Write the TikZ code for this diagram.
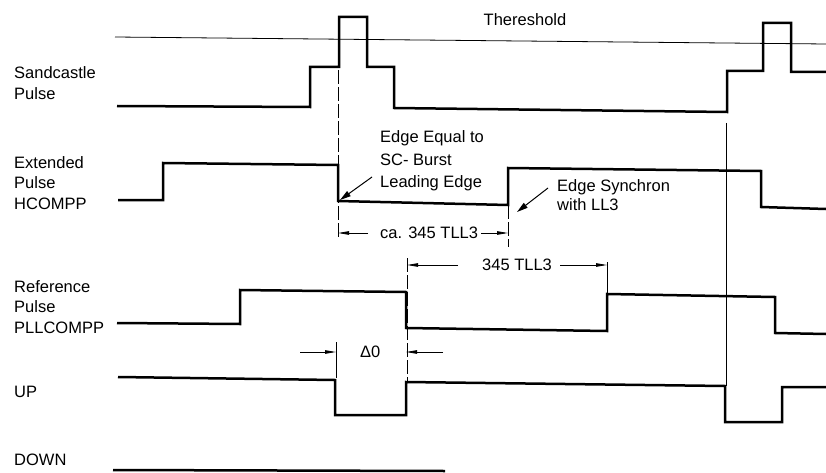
\documentclass[tikz,border=0pt]{standalone}
\usepackage{fontspec}
\setmainfont{Liberation Sans}
\usetikzlibrary{arrows.meta}
\begin{document}
\begin{tikzpicture}[x=1pt,y=-1pt,
  sig/.style={line width=2.5pt, line join=miter},
  hair/.style={line width=0.8pt},
  guide/.style={line width=0.8pt, dash pattern=on 14pt off 3pt},
  lbl/.style={font=\fontsize{16.5}{20.5}\selectfont, inner sep=0pt, align=left, anchor=west},
  dimarrow/.style={line width=0.8pt, -{Triangle[length=11pt,width=3.5pt]}},
  notearrow/.style={line width=1pt, -{Triangle[length=11pt,width=6pt]}},
]
\useasboundingbox (0,0) rectangle (826,473);
% signal labels
\node[lbl] (sand) at (14,83) {Sandcastle\\Pulse};
\node[lbl] (ext) at (14,183) {Extended\\Pulse\\HCOMPP};
\node[lbl] (ref) at (14,307) {Reference\\Pulse\\PLLCOMPP};
\node[lbl] (up) at (14,392) {UP};
\node[lbl] (down) at (14,460) {DOWN};
\node[lbl, anchor=center] (thr) at (525,20) {Thereshold};
% annotations
\node[lbl, font=\fontsize{16.5}{22.5}\selectfont] (eq) at (380,161) {Edge Equal to\\SC- Burst\\Leading Edge};
\node[lbl, font=\fontsize{16.5}{18.5}\selectfont] (syn) at (557,195) {Edge Synchron\\with LL3};
\node[lbl] (ca) at (380,233) {ca. 345 TLL3};
\node[lbl] (tll) at (482,265) {345 TLL3};
\node[lbl] (d0) at (360,352) {Δ0};
% key coordinates
\coordinate (caL) at (338,233);
\coordinate (caR) at (508,233);
\coordinate (tlL) at (407,265);
\coordinate (tlR) at (607,265);
\coordinate (dlT) at (300,352);
\coordinate (dlH) at (336,352);
\coordinate (drH) at (406,352);
\coordinate (drT) at (443,352);
\coordinate (eqH) at (340,200);
\coordinate (synH) at (517,212);
% threshold
\draw[hair] (115,37) -- (826,44);
% waveforms
\draw[sig] (117,106) -- (310,107) -- (310,67) -- (339,67) -- (339,17) -- (367,17) -- (367,67) -- (394,67) -- (394,108) -- (727,112) -- (727,71) -- (763,71) -- (763,23) -- (791,23) -- (791,72) -- (826,72);
\draw[sig] (118,200) -- (163,200) -- (163,163) -- (338,165) -- (338,201) -- (508,205) -- (508,168) -- (761,171) -- (761,207) -- (826,209);
\draw[sig] (117,323) -- (240,324) -- (240,290) -- (406,292) -- (406,328) -- (607,331) -- (607,294) -- (775,297) -- (775,333) -- (826,334);
\draw[sig] (118,377) -- (335,380) -- (335,415) -- (406,415) -- (406,382) -- (725,386) -- (725,422) -- (782,422) -- (782,387) -- (826,387);
\draw[sig] (113,470) -- (445,471);
% guide lines
\draw[guide] (338,70) -- (338,240);
\draw[hair] (336,342) -- (336,378);
\draw[guide] (407,258) -- (407,382);
\draw[guide] (508,205) -- (508,247);
\draw[hair] (607,262) -- (607,294);
\draw[hair] (726,123) -- (726,386);
% dimension arrows
\draw[dimarrow, shorten <=12pt] (ca.west) -- (caL);
\draw[dimarrow, shorten <=3pt] (ca.east) -- (caR);
\draw[dimarrow, shorten <=24pt] (tll.west) -- (tlL);
\draw[dimarrow, shorten <=8pt] (tll.east) -- (tlR);
\draw[dimarrow] (dlT) -- (dlH);
\draw[dimarrow] (drT) -- (drH);
% note arrows
\draw[notearrow] ([xshift=-8pt,yshift=-16pt]eq.west) -- (eqH);
\draw[notearrow] ([xshift=-9pt,yshift=7pt]syn.west) -- (synH);
\end{tikzpicture}
\end{document}
